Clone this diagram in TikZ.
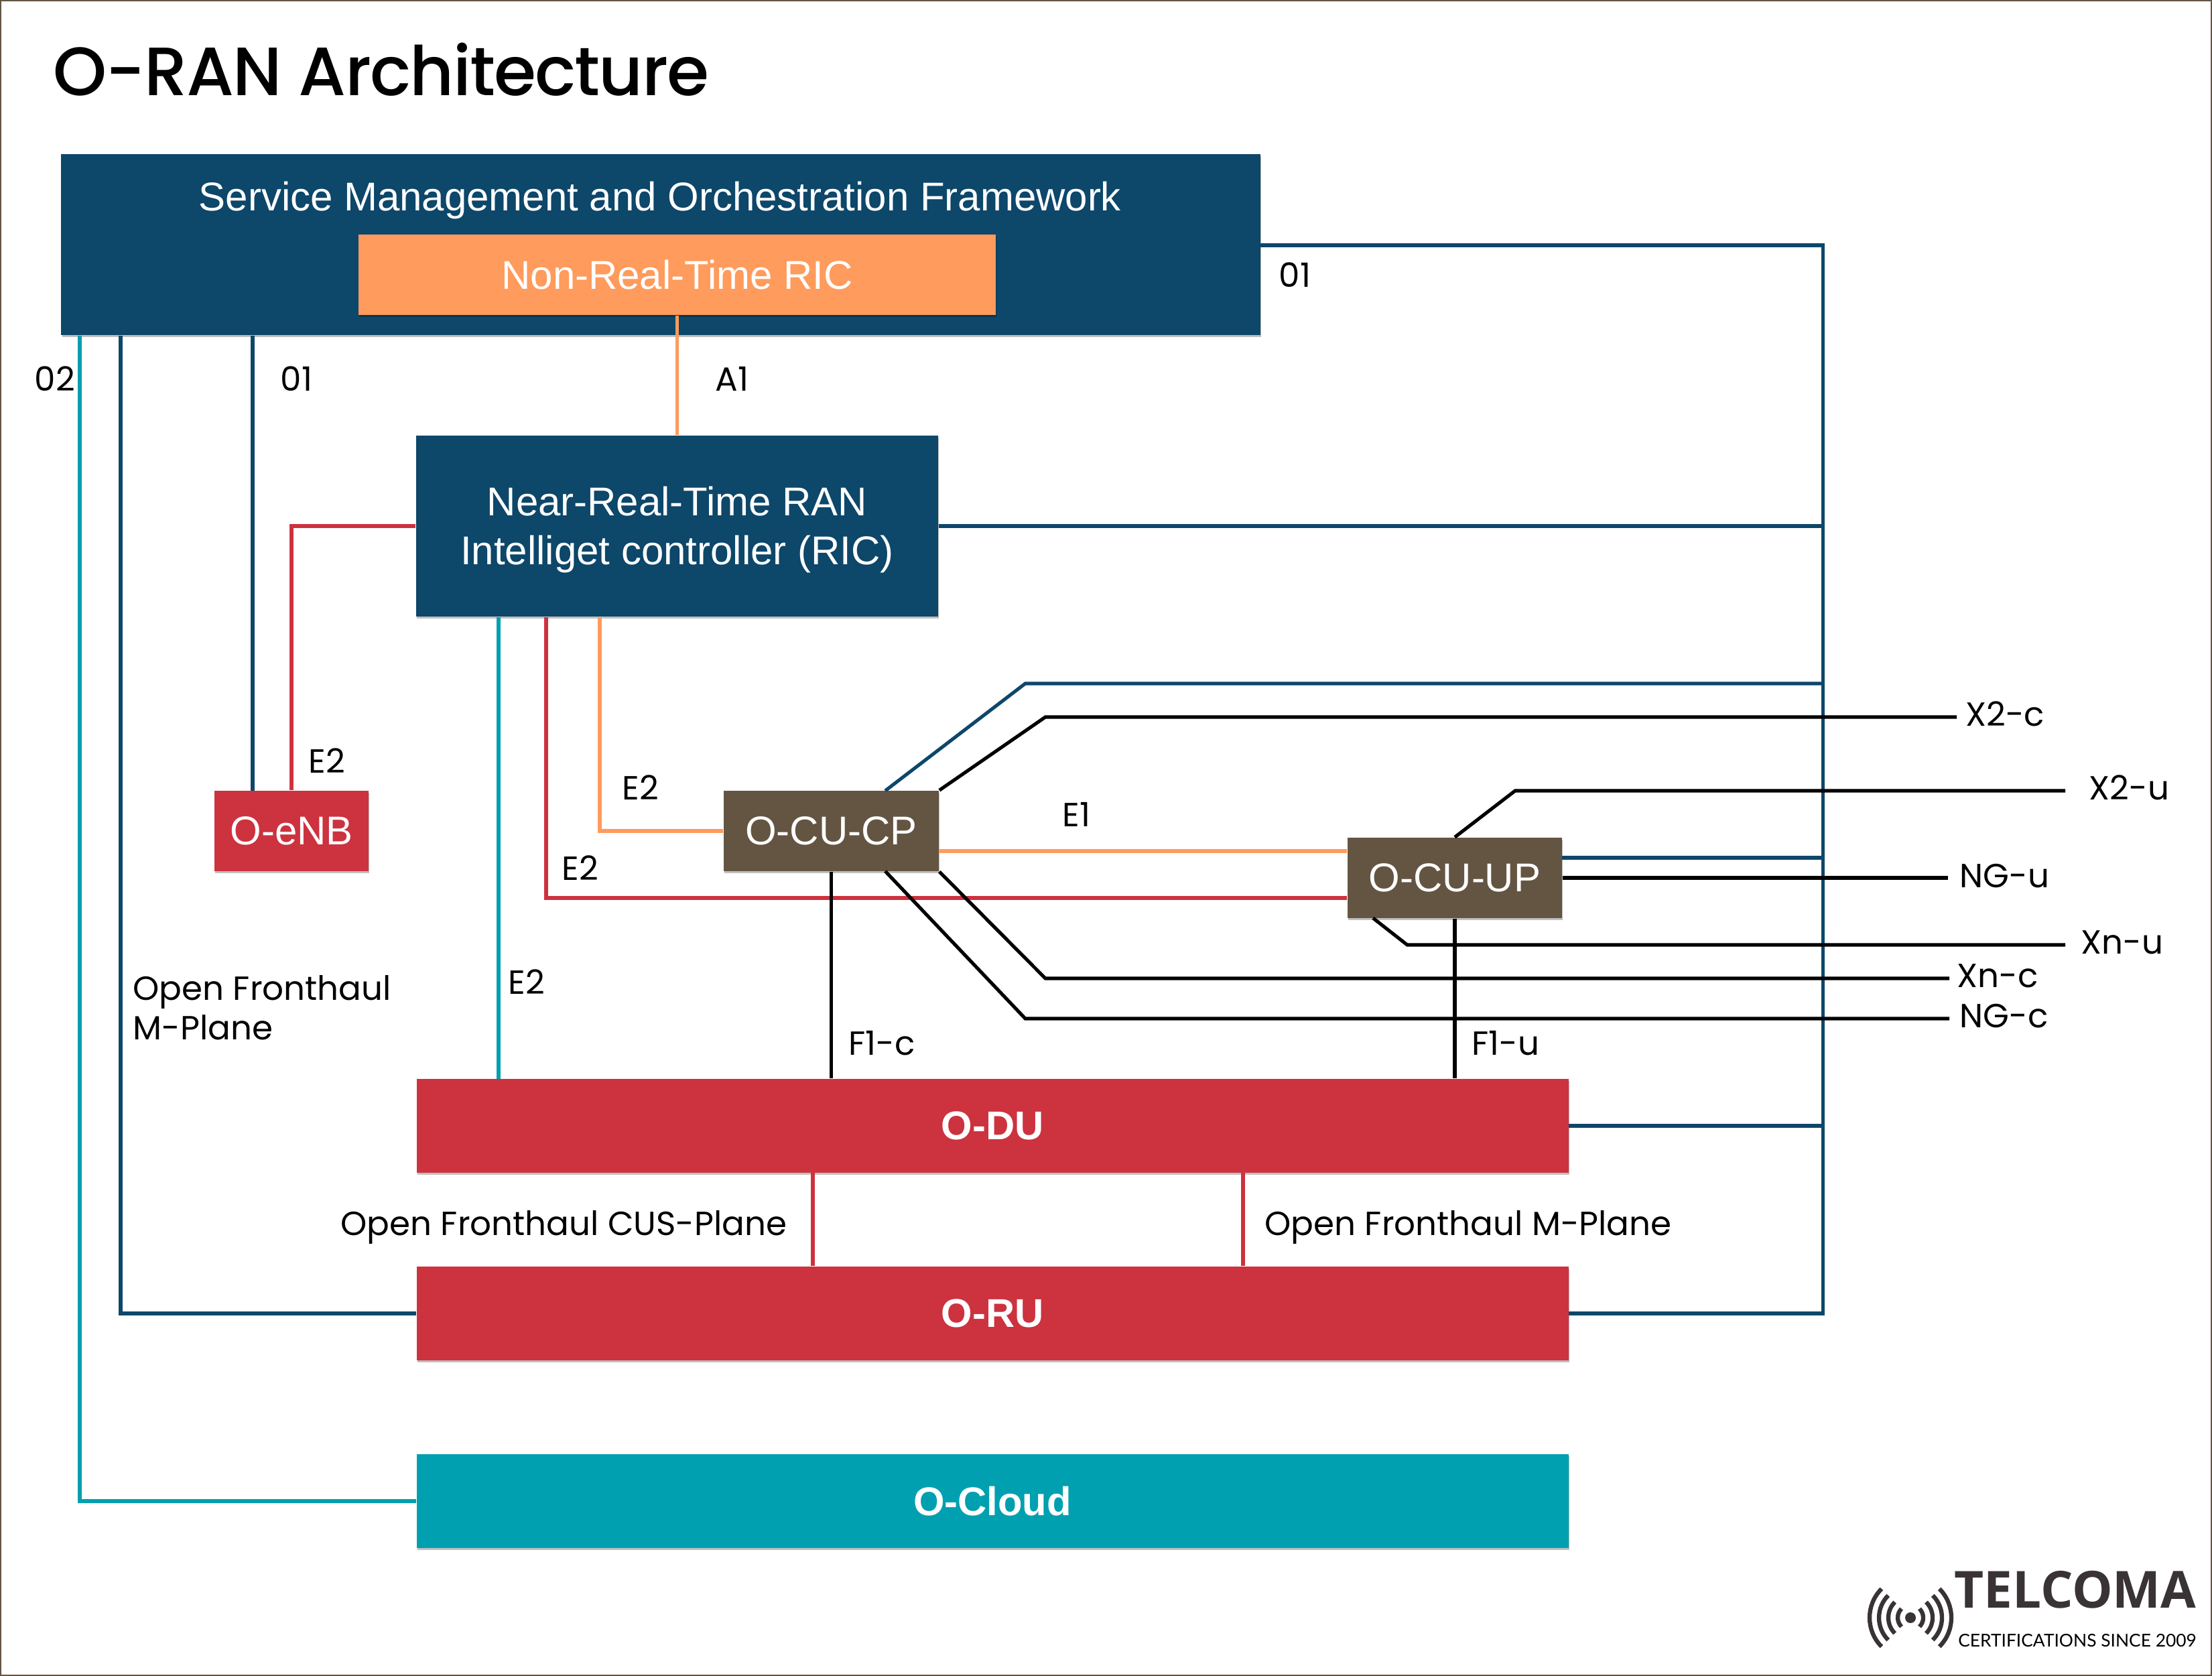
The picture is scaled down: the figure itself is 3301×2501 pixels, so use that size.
\documentclass[tikz,border=0pt]{standalone}
\usepackage{fontspec}
\setmainfont{Poppins}
\newfontfamily\titlefont[LetterSpace=-1.8]{Poppins Medium}
\newfontfamily\arialfont{Liberation Sans}
\newfontfamily\logofont{Open Sans}
\newfontfamily\sublogofont{Lato}
\usetikzlibrary{positioning, calc, shadows}

\definecolor{navy}{HTML}{0D476A}
\definecolor{peach}{HTML}{FF9B5C}
\definecolor{brick}{HTML}{CD323F}
\definecolor{mocha}{HTML}{645543}
\definecolor{teal}{HTML}{00A0B0}
\definecolor{logogrey}{HTML}{393335}

\tikzset{
  box/.style={rectangle, inner sep=0pt, text=white, align=center,
    font=\arialfont\fontsize{17.05}{20.4}\selectfont,
    drop shadow={shadow xshift=0.3pt, shadow yshift=-0.8pt, fill=black, opacity=0.25}},
  boldbox/.style={box, font=\arialfont\bfseries\fontsize{17}{20.4}\selectfont,
    minimum width=17.18cm, minimum height=1.4cm},
  lbl/.style={anchor=west, inner sep=0pt, text height=10.7pt, text depth=0pt,
    font=\fontsize{14.2}{16.7}\selectfont},
  endlbl/.style={lbl, inner ysep=0pt},
  navylink/.style={draw=navy, line width=1.45pt},
  peachlink/.style={draw=peach, line width=1.45pt},
  bricklink/.style={draw=brick, line width=1.45pt},
  teallink/.style={draw=teal, line width=1.45pt},
  blacklink/.style={draw=black, line width=1.45pt},
  logoarc/.style={draw=logogrey, line width=1.8pt}
}

\begin{document}
\begin{tikzpicture}[x=0.01cm,y=-0.01cm]
\useasboundingbox (0,0) rectangle (3301,2501);
\draw[draw=mocha, line width=0.6pt, fill=white] (1,1) rectangle (3300,2500);

% Title
\node[anchor=west, inner sep=0pt, font=\titlefont\fontsize{29}{34}\selectfont] (title) at (79,104) {O-RAN Architecture};

% Boxes
\node[box, fill=navy, minimum width=17.88cm, minimum height=2.7cm] (smo) at (986,365) {};
\node[box, fill=peach, minimum width=9.51cm, minimum height=1.2cm] (nonrt) at (1010.5,410) {Non-Real-Time RIC};
\node[anchor=center, inner sep=0pt, text=white, font=\arialfont\fontsize{17.05}{20.4}\selectfont] (smotext) at (985,299) {Service Management and Orchestration Framework};
\node[box, fill=navy, minimum width=7.79cm, minimum height=2.7cm] (nearrt) at (1010.5,785) {\rule{0pt}{15.5pt}Near-Real-Time RAN\\[0.1pt]Intelliget controller (RIC)};
\node[box, fill=brick, minimum width=2.3cm, minimum height=1.2cm] (oenb) at (435,1240) {O-eNB};
\node[box, fill=mocha, minimum width=3.21cm, minimum height=1.2cm] (ocucp) at (1240.5,1240) {O-CU-CP};
\node[box, fill=mocha, minimum width=3.2cm, minimum height=1.2cm] (ocuup) at (2171,1310) {O-CU-UP};
\node[boldbox, fill=brick] (odu) at (1481,1680) {O-DU};
\node[boldbox, fill=brick] (oru) at (1481,1960) {O-RU};
\node[boldbox, fill=teal] (ocloud) at (1481,2240) {O-Cloud};

% Interface names
\node[lbl] (o1right) at (1908,410) {01};
\node[lbl] (o2left) at (51,565) {02};
\node[lbl] (o1left) at (418,565) {01};
\node[lbl] (a1) at (1067,565) {A1};
\node[lbl] (e2enb) at (460,1135) {E2};
\node[lbl] (e2cp) at (928,1175) {E2};
\node[lbl] (e2up) at (838,1295) {E2};
\node[lbl] (e2du) at (758,1465) {E2};
\node[lbl] (e1) at (1585,1215) {E1};
\node[lbl] (f1c) at (1266,1556) {F1-c};
\node[lbl] (f1u) at (2196,1556) {F1-u};
\node[lbl, text height=, text depth=, align=left, anchor=north west] (openm) at (198,1455) {Open Fronthaul\\M-Plane};
\node[lbl] (opencus) at (508,1825) {Open Fronthaul CUS-Plane};
\node[lbl] (openmdu) at (1887,1825) {Open Fronthaul M-Plane};
\node[endlbl, inner xsep=3.6pt] (x2c) at (2920,1065) {X2-c};
\node[endlbl, inner xsep=10pt] (x2u) at (3082,1175) {X2-u};
\node[endlbl, inner xsep=4.8pt] (ngu) at (2907,1306) {NG-u};
\node[endlbl, inner xsep=6.5pt] (xnu) at (3082,1405) {Xn-u};
\node[endlbl, inner xsep=3.1pt] (xnc) at (2909,1455) {Xn-c};
\node[endlbl, inner xsep=4.3pt] (ngc) at (2909,1515) {NG-c};

% Turning points
\coordinate (bus) at (2720.5,366);
\coordinate (o1x) at (377,1180);
\coordinate (mplanex) at (180,1960);
\coordinate (cloudx) at (119,2240);
\coordinate (duxcyan) at (744,1610);
\coordinate (upred) at (815,1340);
\coordinate (cporange) at (895,1240);
\coordinate (cpblue) at (1321,1180);
\coordinate (cpblueturn) at (1530,1020);
\coordinate (x2cturn) at (1560,1070);
\coordinate (xncturn) at (1560,1460);
\coordinate (cpngc) at (1321,1300);
\coordinate (ngcturn) at (1530,1520);
\coordinate (x2uturn) at (2261,1180);
\coordinate (upblue) at (2331,1280);
\coordinate (e1y) at (1401,1270);
\coordinate (upxnu) at (2049,1370);
\coordinate (xnuturn) at (2100,1410);
\coordinate (cusx) at (1213,1750);
\coordinate (mx) at (1855,1750);

% Management links
\draw[navylink] (smo.east |- bus) -- (bus) -- (bus |- oru.east) -- (oru.east);
\draw[navylink] (nearrt.east) -- (nearrt.east -| bus);
\draw[navylink] (odu.east) -- (odu.east -| bus);
\draw[navylink] (cpblue) -- (cpblueturn) -- (cpblueturn -| bus);
\draw[navylink] (upblue) -- (upblue -| bus);
\draw[navylink] (smo.south -| o1x) -- (o1x);
\draw[navylink] (smo.south -| mplanex) -- (mplanex) -- (oru.west);
\draw[teallink] (smo.south -| cloudx) -- (cloudx) -- (ocloud.west);
\draw[teallink] (nearrt.south -| duxcyan) -- (duxcyan);

% A1 and E links
\draw[peachlink] (nonrt.south) -- (nonrt.south |- nearrt.north);
\draw[peachlink] (nearrt.south -| cporange) -- (cporange) -- (ocucp.west);
\draw[peachlink] (e1y) -- (e1y -| ocuup.west);
\draw[bricklink] (nearrt.west) -- (nearrt.west -| oenb.north) -- (oenb.north);
\draw[bricklink] (nearrt.south -| upred) -- (upred) -- (upred -| ocuup.west);
\draw[bricklink] (cusx) -- (cusx |- oru.north);
\draw[bricklink] (mx) -- (mx |- oru.north);

% Transport links
\draw[blacklink] (ocucp.south) -- (ocucp.south |- odu.north);
\draw[blacklink] (ocuup.south) -- (ocuup.south |- odu.north);
\draw[blacklink] (ocucp.north east) -- (x2cturn) -- (x2cturn -| x2c.west);
\draw[blacklink] (ocucp.south east) -- (xncturn) -- (xncturn -| xnc.west);
\draw[blacklink] (cpngc) -- (ngcturn) -- (ngcturn -| ngc.west);
\draw[blacklink] (ocuup.north) -- (x2uturn) -- (x2uturn -| x2u.west);
\draw[blacklink] (ocuup.east) -- (ocuup.east -| ngu.west);
\draw[blacklink] (upxnu) -- (xnuturn) -- (xnuturn -| xnu.west);

% Logo
\fill[logogrey] (2851,2414) circle (8) coordinate (logodot);
\foreach \r in {19,33,47,61} {
  \draw[logoarc] (2851,2414) ++(135:\r) arc[start angle=135, end angle=225, radius=\r];
  \draw[logoarc] (2851,2414) ++(45:\r) arc[start angle=45, end angle=-45, radius=\r];
}
\node[inner sep=0pt, text=logogrey, font=\logofont\bfseries\fontsize{21.7}{24}\selectfont] (telcoma) at (3097,2372) {TELCOMA};
\node[inner sep=0pt, text=black, font=\sublogofont\fontsize{7.5}{10}\selectfont] (since) at (3100,2448) {CERTIFICATIONS SINCE 2009};
\end{tikzpicture}
\end{document}
